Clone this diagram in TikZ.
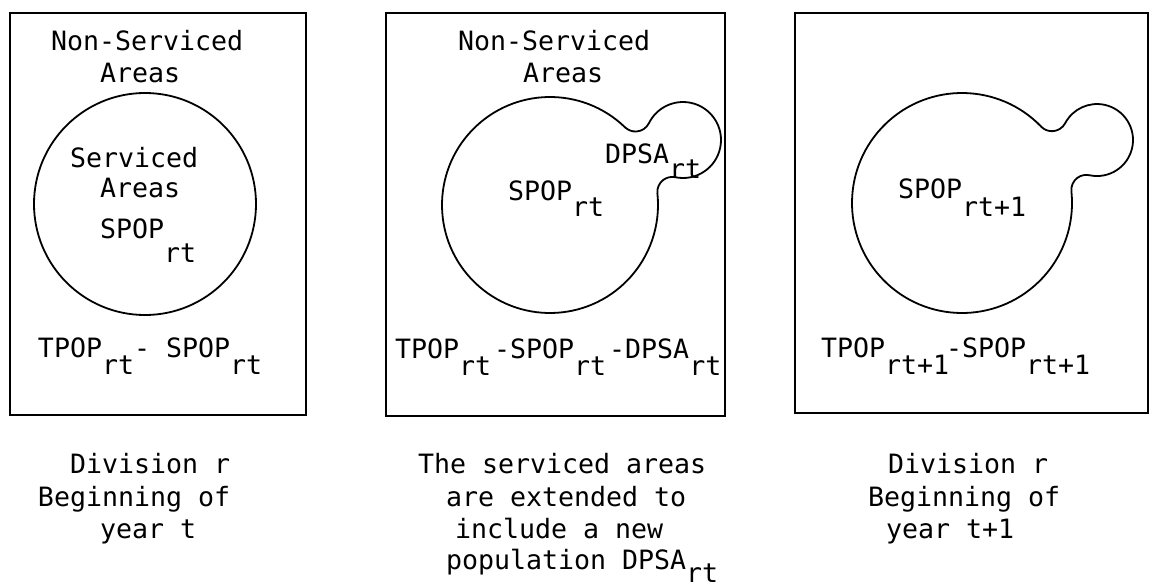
\documentclass[tikz,border=0pt]{standalone}
\usepackage{fontspec}
\setmainfont{DejaVu Sans Mono}
\newcommand{\lo}[2][8.5pt]{\raisebox{-#1}{#2}}
\begin{document}
\begin{tikzpicture}[x=0.5pt,y=0.5pt,
  box/.style={draw, line width=1.1pt},
  blob/.style={draw, line width=0.9pt},
  txt/.style={anchor=base west, inner sep=0pt, outer sep=0pt, font=\fontsize{13.3pt}{16.25pt}\selectfont}]
\useasboundingbox (0,0) rectangle (1151,586);

% boxes
\draw[box] (10,171) rectangle (306,573);
\draw[box] (386,170) rectangle (725,573);
\draw[box] (795,173) rectangle (1148,573);

% serviced areas
\draw[blob] (145,382) circle[radius=111];
\draw[blob] (550,381) ++(45.98:108)
  arc[start angle=45.98, end angle=366.11, radius=108]
  arc[start angle=186.11, end angle=78.35, radius=15]
  arc[start angle=-101.65, end angle=153.68, radius=38]
  arc[start angle=-26.32, end angle=-134.02, radius=15] -- cycle;
\draw[blob] (962,383) ++(44.0:110)
  arc[start angle=44.0, end angle=366.02, radius=110]
  arc[start angle=186.02, end angle=77.90, radius=15]
  arc[start angle=-102.10, end angle=152.13, radius=36]
  arc[start angle=-27.87, end angle=-136.0, radius=15] -- cycle;

% box 1 texts
\node[txt] (ns1) at (51,536) {Non-Serviced};
\node[txt] (na1) at (100,504) {Areas};
\node[txt] (sv1) at (70,419) {Serviced};
\node[txt] (sa1) at (100,389) {Areas};
\node[txt] (sp1) at (100,348) {SPOP\lo[12pt]{rt}};
\node[txt] (tp1) at (38,229) {TPOP\lo{rt}- SPOP\lo{rt}};

% box 2 texts
\node[txt] (ns2) at (458,536) {Non-Serviced};
\node[txt] (na2) at (523,504) {Areas};
\node[txt] (dp2) at (605,423) {DPSA\lo[7.5pt]{rt}};
\node[txt] (sp2) at (508,386) {SPOP\lo[8pt]{rt}};
\node[txt] (tp2) at (395,228) {TPOP\lo{rt}\hspace{1.5pt}-SPOP\lo{rt}\hspace{1.5pt}-DPSA\lo{rt}};

% box 3 texts
\node[txt] (sp3) at (898,388) {SPOP\lo[9pt]{rt+1}};
\node[txt] (tp3) at (821,229) {TPOP\lo{rt+1}\hspace{-1.5pt}-SPOP\lo{rt+1}};

% captions
\node[txt] (c1a) at (70,113) {Division r};
\node[txt] (c1b) at (38,80) {Beginning of};
\node[txt] (c1c) at (100,48) {year t};

\node[txt] (c2a) at (418,113) {The serviced areas};
\node[txt] (c2b) at (446,80) {are extended to};
\node[txt] (c2c) at (455,48) {include a new};
\node[txt] (c2d) at (446,17) {population DPSA\lo[6.5pt]{rt}};

\node[txt] (c3a) at (888,113) {Division r};
\node[txt] (c3b) at (868,80) {Beginning of};
\node[txt] (c3c) at (886,48) {year t+1};
\end{tikzpicture}
\end{document}
